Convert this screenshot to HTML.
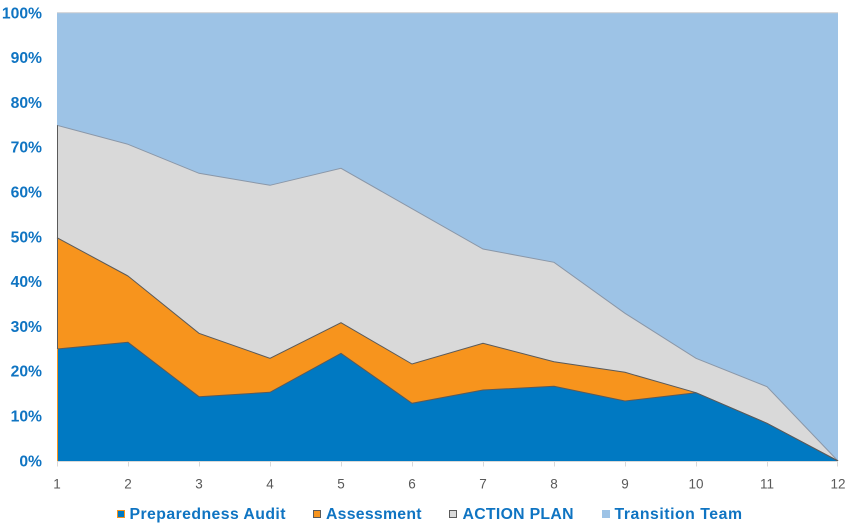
<!DOCTYPE html>
<html>
<head>
<meta charset="utf-8">
<style>
html,body{margin:0;padding:0;background:#fff;}
svg{display:block;}
text{font-family:"Liberation Sans",Arial,sans-serif;}
</style>
</head>
<body>
<svg width="864" height="530" viewBox="0 0 864 530" xmlns="http://www.w3.org/2000/svg">
  <rect x="0" y="0" width="864" height="530" fill="#ffffff"/>
  <!-- Transition Team (background to 100%) -->
  <polygon points="57,12.7 838,12.7 838,461 57,461" fill="#9dc3e6"/>
  <line x1="57" y1="12.7" x2="838" y2="12.7" stroke="#c9ccd0" stroke-width="1"/>
  <!-- ACTION PLAN -->
  <polygon points="57,125.3 128,144.3 199,173.3 270,185.3 341,168.3 412,208.7 483,249 554,262.3 625,313.3 696,358.3 767,386.7 838,461 57,461" fill="#d9d9d9"/>
  <polyline points="57,125.3 128,144.3 199,173.3 270,185.3 341,168.3 412,208.7 483,249 554,262.3 625,313.3 696,358.3 767,386.7 838,461" fill="none" stroke="#8a97a8" stroke-width="1"/>
  <!-- Assessment -->
  <polygon points="57,237.7 128,276 199,333.3 270,358.3 341,322.7 412,364 483,343.3 554,361.7 625,372.3 696,392.7 767,423.3 838,461 57,461" fill="#f7941d"/>
  <polyline points="57,237.7 128,276 199,333.3 270,358.3 341,322.7 412,364 483,343.3 554,361.7 625,372.3 696,392.7 767,423.3 838,461" fill="none" stroke="#5a5a5a" stroke-width="1"/>
  <!-- Preparedness Audit -->
  <polygon points="57,349 128,342.3 199,396.7 270,392.3 341,353.3 412,403.3 483,390 554,386.3 625,401 696,392.7 767,423.3 838,461 57,461" fill="#0079c2"/>
  <polyline points="57,349 128,342.3 199,396.7 270,392.3 341,353.3 412,403.3 483,390 554,386.3 625,401 696,392.7 767,423.3 838,461" fill="none" stroke="#5a5a5a" stroke-width="1"/>
  <!-- left edge outlines -->
  <line x1="57.5" y1="125.3" x2="57.5" y2="349" stroke="#5a5a5a" stroke-width="1"/>
  <line x1="57.5" y1="349" x2="57.5" y2="461" stroke="#f7941d" stroke-width="1"/>

  <!-- x axis -->
  <line x1="57" y1="461.5" x2="838" y2="461.5" stroke="#d9d9d9" stroke-width="1"/>
  <g stroke="#d9d9d9" stroke-width="1">
    <line x1="57.5" y1="461" x2="57.5" y2="466.5"/>
    <line x1="128.5" y1="461" x2="128.5" y2="466.5"/>
    <line x1="199.5" y1="461" x2="199.5" y2="466.5"/>
    <line x1="270.5" y1="461" x2="270.5" y2="466.5"/>
    <line x1="341.5" y1="461" x2="341.5" y2="466.5"/>
    <line x1="412.5" y1="461" x2="412.5" y2="466.5"/>
    <line x1="483.5" y1="461" x2="483.5" y2="466.5"/>
    <line x1="554.5" y1="461" x2="554.5" y2="466.5"/>
    <line x1="625.5" y1="461" x2="625.5" y2="466.5"/>
    <line x1="696.5" y1="461" x2="696.5" y2="466.5"/>
    <line x1="767.5" y1="461" x2="767.5" y2="466.5"/>
    <line x1="837.5" y1="461" x2="837.5" y2="466.5"/>
  </g>
  <g font-size="13.5" fill="#595959" text-anchor="middle">
    <text x="57" y="488.5">1</text>
    <text x="128" y="488.5">2</text>
    <text x="199" y="488.5">3</text>
    <text x="270" y="488.5">4</text>
    <text x="341" y="488.5">5</text>
    <text x="412" y="488.5">6</text>
    <text x="483" y="488.5">7</text>
    <text x="554" y="488.5">8</text>
    <text x="625" y="488.5">9</text>
    <text x="696" y="488.5">10</text>
    <text x="767" y="488.5">11</text>
    <text x="838" y="488.5">12</text>
  </g>

  <!-- y axis labels -->
  <g font-size="15.7" font-weight="bold" fill="#0f74c2" text-anchor="end">
    <text x="42" y="18.3">100%</text>
    <text x="42" y="63.1">90%</text>
    <text x="42" y="107.9">80%</text>
    <text x="42" y="152.7">70%</text>
    <text x="42" y="197.5">60%</text>
    <text x="42" y="242.3">50%</text>
    <text x="42" y="287.1">40%</text>
    <text x="42" y="331.9">30%</text>
    <text x="42" y="376.7">20%</text>
    <text x="42" y="421.5">10%</text>
    <text x="42" y="466.3">0%</text>
  </g>

  <!-- legend -->
  <rect x="117.5" y="510.5" width="7" height="7" fill="#0079c2" stroke="#f7941d" stroke-width="1"/>
  <rect x="313.5" y="510.5" width="7" height="7" fill="#f7941d" stroke="#5a5a5a" stroke-width="1"/>
  <rect x="449.5" y="510.5" width="7" height="7" fill="#d9d9d9" stroke="#5a5a5a" stroke-width="1"/>
  <rect x="602" y="510" width="8" height="8" fill="#9dc3e6"/>
  <g font-size="15.8" font-weight="bold" fill="#0f74c2">
    <text x="129.5" y="519" textLength="156" lengthAdjust="spacing">Preparedness Audit</text>
    <text x="326" y="519" textLength="95.5" lengthAdjust="spacing">Assessment</text>
    <text x="462.5" y="519" textLength="111" lengthAdjust="spacing">ACTION PLAN</text>
    <text x="614.5" y="519" textLength="127.5" lengthAdjust="spacing">Transition Team</text>
  </g>
</svg>
</body>
</html>
